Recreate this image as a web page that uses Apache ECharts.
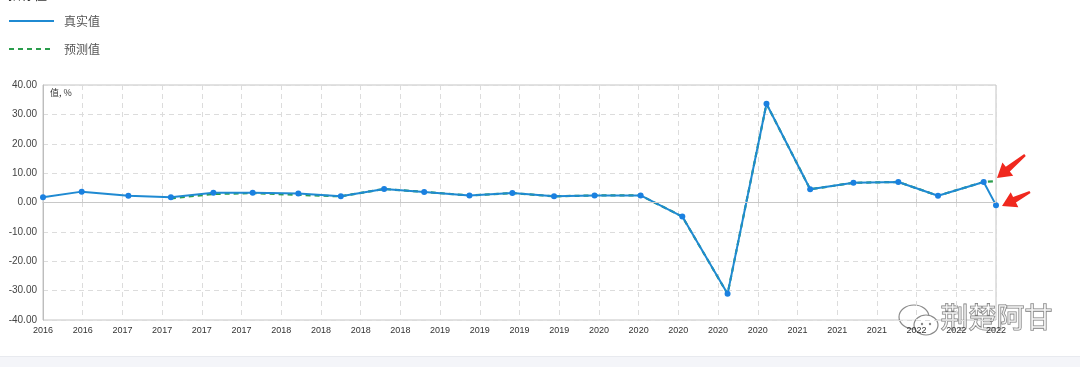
<!DOCTYPE html>
<html><head><meta charset="utf-8">
<script src="https://cdn.jsdelivr.net/npm/echarts@6/dist/echarts.min.js"></script>
<style>html,body{margin:0;padding:0;background:#fff;}#c{width:1080px;height:367px;}</style>
</head><body><div id="c"></div>
<script>
// tick labels of the x axis (one per vertical grid line)
const tickLabels = ['2016','2016','2017','2017','2017','2017','2018','2018','2018','2018','2019','2019','2019','2019','2020','2020','2020','2020','2020','2021','2021','2021','2022','2022','2022'];
// position of each observation, in tick-interval units along the x axis
const periodPos = [0,0.975,2.15,3.22,4.29,5.28,6.43,7.50,8.59,9.60,10.74,11.82,12.87,13.89,15.05,16.10,17.24,18.22,19.32,20.41,21.54,22.54,23.69,24];
// 真实值
const actualValues = [1.8,3.7,2.3,1.8,3.3,3.3,3.1,2.1,4.6,3.6,2.4,3.2,2.1,2.4,2.4,-4.8,-31.1,33.6,4.5,6.7,7.0,2.3,7.0,-0.9];
// 预测值
const predictedValues = [null,null,null,1.4,2.9,3.2,2.6,2.1,4.6,3.6,2.4,3.2,2.1,2.4,2.4,-4.8,-31.1,33.6,4.5,6.7,7.0,2.3,7.0,7.3];

const actualData = periodPos.map((p,i)=>[p,actualValues[i]]);
const predictedData = periodPos.map((p,i)=>[p,predictedValues[i]]);

function arrowPts(tx,ty,hx,hy){
  const dx=hx-tx, dy=hy-ty, L=Math.hypot(dx,dy);
  const ux=dx/L, uy=dy/L, px=-uy, py=ux;
  const headLen=14, headW=8.5, w0=1.2, w1=3.2;
  const bx=hx-ux*headLen, by=hy-uy*headLen;
  return [[tx+px*w0,ty+py*w0],[bx+px*w1,by+py*w1],[bx+px*headW,by+py*headW],[hx,hy],
          [bx-px*headW,by-py*headW],[bx-px*w1,by-py*w1],[tx-px*w0,ty-py*w0]];
}

const chart = echarts.init(document.getElementById('c'), null, {renderer:'canvas'});
const numFont = "'Liberation Sans', Arial, sans-serif";
const cjkFont = "'Noto Sans CJK SC', sans-serif";
chart.setOption({
  animation:false,
  backgroundColor:'#fff',
  legend:{
    orient:'vertical', left:3, top:10, itemWidth:45, itemHeight:14, itemGap:16,
    textStyle:{fontSize:12, color:'#555', fontFamily:cjkFont, padding:[0,0,0,5]},
    itemStyle:{opacity:0},
    data:['真实值','预测值']
  },
  grid:{left:43, right:84, top:85, bottom:47, show:true, borderColor:'#c4c4c4', borderWidth:1},
  xAxis:{
    type:'value', min:0, max:24, interval:1,
    axisLine:{show:true, lineStyle:{color:'#bdbdbd'}},
    axisTick:{show:true, inside:true, length:4, lineStyle:{color:'#cfcfcf'}},
    axisLabel:{formatter:v=>tickLabels[Math.round(v)]||'', fontSize:9, color:'#333', fontFamily:numFont, margin:6, showMinLabel:true, showMaxLabel:true},
    splitLine:{show:true, lineStyle:{color:'#dcdcdc', type:[5,4]}}
  },
  yAxis:{
    type:'value', min:-40, max:40, interval:10,
    axisLine:{show:true, lineStyle:{color:'#bdbdbd'}},
    axisTick:{show:false},
    axisLabel:{formatter:v=>v.toFixed(2), fontSize:10, color:'#444', fontFamily:numFont, margin:6},
    splitLine:{show:true, lineStyle:{color:'#dcdcdc', type:[5,4]}}
  },
  series:[
    {
      name:'预测值', type:'line', data:predictedData, showSymbol:false, symbol:'none',
      connectNulls:false, z:2,
      lineStyle:{color:'#2a9d4c', width:2.2, type:[5,4]},
      itemStyle:{color:'#2a9d4c'}
    },
    {
      name:'真实值', type:'line', data:actualData, symbol:'circle', symbolSize:6, z:3,
      lineStyle:{color:'#1f8ad2', width:2},
      itemStyle:{color:'#1a80e0'},
      markLine:{silent:true, symbol:'none', label:{show:false},
        lineStyle:{color:'#c8c8c8', type:'solid', width:1}, data:[{yAxis:0}]}
    }
  ],
  graphic:[
    {type:'text', left:8, top:-12, style:{text:'指标值', fontSize:13, fill:'#333', fontFamily:cjkFont}},
    {type:'text', left:50, top:88, style:{text:'值, %', fontSize:9, fill:'#333', fontFamily:cjkFont}},
    {type:'rect', left:0, top:357, shape:{width:1080, height:10}, style:{fill:'#f4f5f9'}},
    {type:'rect', left:0, top:356, shape:{width:1080, height:1}, style:{fill:'#e8eaef'}},
    {type:'polygon', shape:{points:arrowPts(1025,155,997,178)}, style:{fill:'#f0281e'}},
    {type:'polygon', shape:{points:arrowPts(1030,192,1002,206)}, style:{fill:'#f0281e'}},
    {type:'ellipse', shape:{cx:914, cy:317, rx:15, ry:12}, style:{fill:'rgba(255,255,255,0.5)', stroke:'#8a8a8a', lineWidth:1.2}},
    {type:'ellipse', shape:{cx:926, cy:325, rx:12, ry:10}, style:{fill:'#fff', stroke:'#8a8a8a', lineWidth:1.2}},
    {type:'circle', shape:{cx:922, cy:324, r:1.2}, style:{fill:'#888'}},
    {type:'circle', shape:{cx:930, cy:324, r:1.2}, style:{fill:'#888'}},
    {type:'text', left:940, top:303, style:{text:'荆楚阿甘', fontSize:28, fill:'rgba(255,255,255,0.55)', stroke:'#7a7a7a', lineWidth:1.1, fontFamily:cjkFont}}
  ]
});
</script>
</body></html>
